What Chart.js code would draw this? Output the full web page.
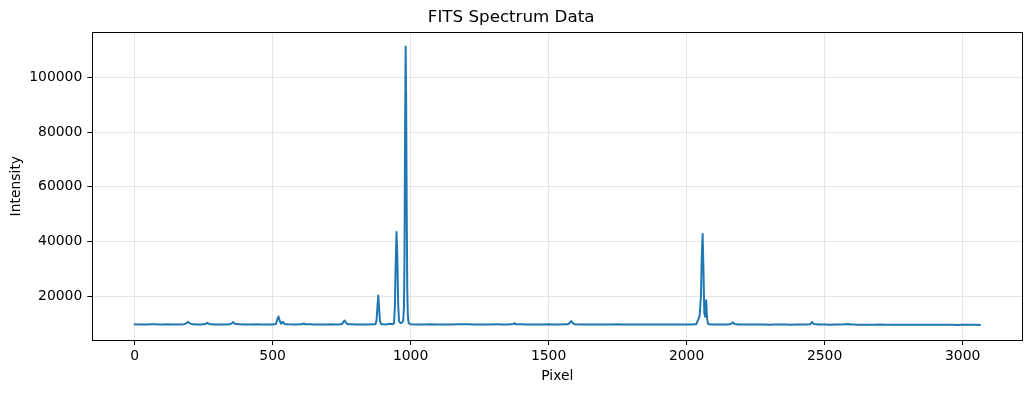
<!doctype html>
<html lang="en">

<head>
	<meta charset="utf-8">
	<title>FITS Spectrum Data</title>
	<style>
		* {
			margin: 0;
			padding: 0;
		}

		body {
			background: white;
		}

		.chartBox {
			width: 1031px;
			height: 393px;
		}
	</style>
</head>

<body>
	<div class="chartBox">
		<canvas id="specChart"></canvas>
	</div>
	<script src="https://cdn.jsdelivr.net/npm/chart.js"></script>

	<script>
		// pixel positions and intensities
		const pixels = [
			0, 30, 60, 90, 120, 150, 180, 188, 194, 200, 210, 240, 255, 263, 270, 290, 320, 345, 352, 357,
			363, 380, 410, 440, 470, 500, 512, 516, 521, 526, 531, 537, 543, 560, 590, 608, 613, 618, 650, 680,
			710, 740, 752, 756, 761, 766, 772, 800, 830, 860, 873, 877, 880, 883, 886, 889, 893, 910, 927, 935,
			940, 943, 946, 949, 952, 955, 958, 962, 965, 969, 973, 976, 978, 980, 982, 984, 986, 988, 990, 993,
			1000, 1030, 1070, 1110, 1150, 1190, 1230, 1270, 1310, 1350, 1372, 1377, 1382, 1420, 1460, 1500, 1540, 1570, 1577, 1582,
			1587, 1595, 1630, 1670, 1710, 1750, 1790, 1830, 1870, 1910, 1950, 1990, 2020, 2035, 2042, 2047, 2052, 2055, 2058, 2061,
			2064, 2067, 2071, 2074, 2078, 2090, 2120, 2150, 2160, 2167, 2174, 2190, 2220, 2260, 2300, 2340, 2380, 2420, 2448, 2455,
			2461, 2480, 2520, 2560, 2586, 2592, 2620, 2660, 2700, 2740, 2780, 2820, 2860, 2900, 2940, 2980, 3020, 3063
		]
		const intensity = [
			9750, 9700, 9780, 9720, 9760, 9700, 9780, 10200, 10700, 10100, 9750, 9720, 9800, 10300, 9900, 9740, 9700, 9780, 10100, 10600,
			10000, 9750, 9720, 9760, 9700, 9740, 9900, 11200, 12700, 11000, 10000, 10700, 9900, 9760, 9720, 9800, 10100, 9780, 9740, 9700,
			9760, 9720, 9850, 10600, 11200, 10300, 9800, 9740, 9700, 9760, 9800, 11500, 16500, 20300, 15500, 11000, 9800, 9720, 10000, 9800,
			10200, 16000, 32000, 43500, 34000, 17000, 11000, 10300, 10200, 10500, 11000, 16000, 35000, 80000, 111300, 90000, 50000, 22000, 13000, 10200,
			9750, 9720, 9760, 9700, 9740, 9780, 9720, 9700, 9750, 9720, 9850, 10200, 9800, 9740, 9700, 9760, 9720, 9780, 10400, 11000,
			10200, 9760, 9700, 9740, 9700, 9760, 9700, 9720, 9680, 9740, 9700, 9680, 9700, 9800, 11500, 12800, 20000, 35000, 42800, 30000,
			14000, 12500, 18600, 12000, 9900, 9700, 9660, 9700, 9900, 10500, 9900, 9720, 9660, 9700, 9650, 9700, 9640, 9680, 9800, 10600,
			9850, 9680, 9640, 9680, 9900, 9680, 9640, 9600, 9660, 9600, 9640, 9580, 9620, 9580, 9620, 9560, 9600, 9550
		]
		const xTicks = [0, 500, 1000, 1500, 2000, 2500, 3000]
		const yTicks = [20000, 40000, 60000, 80000, 100000]

		const points = pixels.map((p, i) => ({ x: p, y: intensity[i] }))

		// black frame round the plot area, like matplotlib spines
		const frame = {
			id: 'frame',
			afterDraw(chart) {
				const { ctx, chartArea: a } = chart
				ctx.save()
				ctx.strokeStyle = '#000'
				ctx.lineWidth = 1
				ctx.strokeRect(Math.round(a.left) + 0.5, Math.round(a.top) + 0.5,
					Math.round(a.right - a.left), Math.round(a.bottom - a.top))
				ctx.restore()
			}
		}

		const tickFont = { family: 'DejaVu Sans', size: 13.9 }
		const gridOpts = {
			color: '#e6e6e6',
			lineWidth: 1,
			tickColor: '#000',
			tickLength: 5,
			tickWidth: 1
		}

		const config = {
			type: 'line',
			data: {
				datasets: [{
					data: points,
					borderColor: '#1f77b4',
					borderWidth: 2,
					borderJoinStyle: 'round',
					borderCapStyle: 'round',
					pointRadius: 0,
					// tiny tension keeps chart.js off its per-pixel fast path, which mangles the narrow peaks
					tension: 0.001,
					fill: false
				}]
			},
			options: {
				responsive: true,
				maintainAspectRatio: false,
				animation: false,
				layout: {
					padding: { left: 0, right: 8.7, top: 0, bottom: 0 }
				},
				plugins: {
					legend: { display: false },
					tooltip: { enabled: false },
					title: {
						display: true,
						text: 'FITS Spectrum Data',
						color: '#000',
						font: { family: 'DejaVu Sans', size: 16.7, weight: 'normal' },
						padding: { top: 8, bottom: 4.3 }
					}
				},
				scales: {
					x: {
						type: 'linear',
						min: -153.2,
						max: 3216.2,
						afterBuildTicks: s => { s.ticks = xTicks.map(v => ({ value: v })) },
						afterFit: s => { s.height = 53 },
						border: { display: false },
						grid: gridOpts,
						ticks: { color: '#000', font: tickFont, padding: 3, maxRotation: 0, callback: v => String(v) },
						title: {
							display: true,
							text: 'Pixel',
							color: '#000',
							font: tickFont,
							padding: { top: 0, bottom: 8.7 }
						}
					},
					y: {
						type: 'linear',
						min: 4040,
						max: 116440,
						afterBuildTicks: s => { s.ticks = yTicks.map(v => ({ value: v })) },
						afterFit: s => { s.width = 92.3 },
						border: { display: false },
						grid: gridOpts,
						ticks: { color: '#000', font: tickFont, padding: 5, callback: v => String(v) },
						title: {
							display: true,
							text: 'Intensity',
							color: '#000',
							font: tickFont,
							padding: { top: 8.4, bottom: 0 }
						}
					}
				}
			},
			plugins: [frame]
		}

		const specChart = new Chart(document.getElementById('specChart'), config)
	</script>

</body>

</html>
